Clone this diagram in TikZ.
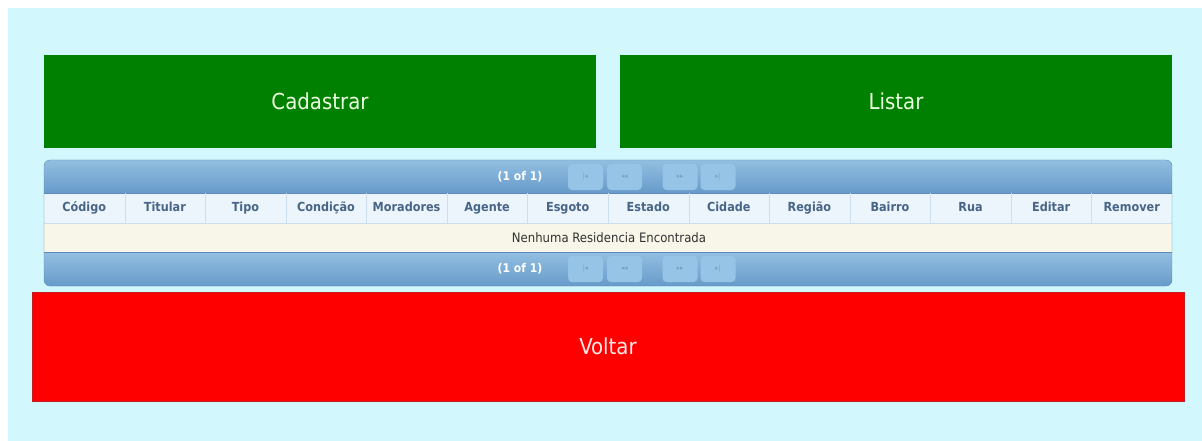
\documentclass[tikz,border=0pt]{standalone}
\usepackage{fontspec}
\setmainfont{DejaVu Sans Condensed}
\usetikzlibrary{positioning}

\definecolor{fundo}{RGB}{210,247,252}
\definecolor{verde}{RGB}{0,128,0}
\definecolor{vermelho}{RGB}{255,0,0}
\definecolor{bordaverm}{RGB}{196,28,36}
\definecolor{barraclara}{RGB}{146,191,225}
\definecolor{barraescura}{RGB}{104,155,202}
\definecolor{bordatab}{RGB}{92,138,184}
\definecolor{cabecalho}{RGB}{236,245,252}
\definecolor{linhavazia}{RGB}{248,246,232}
\definecolor{textocab}{RGB}{72,100,134}
\definecolor{separa}{RGB}{205,222,238}
\definecolor{botaopag}{RGB}{150,196,230}
\definecolor{simbolo}{RGB}{120,160,200}

\tikzset{
  botao/.style={inner sep=0pt, font=\fontsize{22}{26}\selectfont},
  cabec/.style={inner sep=0pt, minimum width=80.57, minimum height=30, text height=9.5pt, text depth=3pt, text=textocab, font=\fontsize{12.5}{14}\selectfont\bfseries},
  pagina/.style={inner sep=0pt, text=white, font=\fontsize{12}{14}\selectfont\bfseries},
  botaopg/.style={inner sep=0pt, minimum width=35, minimum height=26, rounded corners=4pt, fill=botaopag, text=simbolo, font=\fontsize{7}{8}\selectfont},
}

\begin{document}
\begin{tikzpicture}[x=1pt,y=1pt,yscale=-1,xscale=1]
\useasboundingbox (0,0) rectangle (1202,441);

%Shape: Rectangle
\fill [fundo] (8,8) rectangle (1202,441);

% Button Node
\node [botao, minimum width=552, minimum height=93, fill=verde, text={rgb,255:red,236;green,255;blue,224}] (cadastrar) at (320,101.5) {Cadastrar};
% Button Node
\node [botao, minimum width=552, minimum height=93, fill=verde, text={rgb,255:red,236;green,255;blue,224}] (listar) at (896,101.5) {Listar};

%Shape: Table panel
\begin{scope}
\clip [rounded corners=6pt] (44,160) rectangle (1172,286);
\shade [top color=barraclara, bottom color=barraescura] (44,160) rectangle (1172,193);
\fill [cabecalho] (44,193) rectangle (1172,223);
\fill [linhavazia] (44,223) rectangle (1172,252);
\shade [top color=barraclara, bottom color=barraescura] (44,252) rectangle (1172,286);
\end{scope}
\draw [separa] (44,223) -- (1172,223);
\draw [bordatab] (44,193) -- (1172,193) (44,252) -- (1172,252);
\draw [bordatab, rounded corners=6pt] (44,160) rectangle (1172,286);

% Header Nodes
\foreach \nome [count=\i] in {Código,Titular,Tipo,Condição,Moradores,Agente,Esgoto,Estado,Cidade,Região,Bairro,Rua,Editar,Remover}
  \node [cabec] (col\i) at ({44+80.57*(\i-0.5)},208) {\nome};
\foreach \i in {1,...,13}
  \draw [separa] (col\i.north east) -- (col\i.south east);

% Text Node
\node [inner sep=0pt, text={rgb,255:red,50;green,50;blue,50}, font=\fontsize{13}{15}\selectfont] (vazio) at (609,238) {Nenhuma Residencia Encontrada};

% Paginator Nodes
\foreach \y/\lado in {177/sup,269/inf}{
  \node [pagina] (pagina\lado) at (520,\y) {(1 of 1)};
  \node [botaopg] (primeira\lado) at (585.5,\y) {|◂};
  \node [botaopg] (anterior\lado) at (624.5,\y) {◂◂};
  \node [botaopg] (proxima\lado) at (680,\y) {▸▸};
  \node [botaopg] (ultima\lado) at (718,\y) {▸|};
}

% Button Node
\node [botao, minimum width=1152, minimum height=109, fill=vermelho, draw=bordaverm, text={rgb,255:red,255;green,232;blue,232}] (voltar) at (608,346.5) {Voltar};

\end{tikzpicture}
\end{document}
